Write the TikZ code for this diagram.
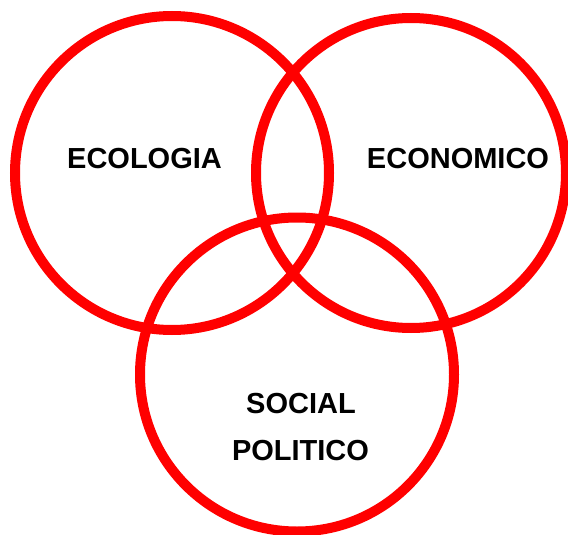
\documentclass[tikz,border=0pt]{standalone}
\usepackage{fontspec}
\setmainfont{Liberation Sans}
\begin{document}
\begin{tikzpicture}[x=1pt,y=-1pt,
  ring/.style={circle,draw=red,line width=10pt,inner sep=0pt,outer sep=0pt,minimum size=#1},
  lbl/.style={anchor=base,inner sep=0pt,font=\fontsize{29pt}{35pt}\selectfont\bfseries}]
\useasboundingbox (0,0) rectangle (568,535);
\node[ring=314pt] (eco) at (172,173) {};
\node[ring=310pt] (econ) at (411,173) {};
\node[ring=314pt] (soc) at (297,374.5) {};
\node[lbl] (t1) at (144.5,168) {ECOLOGIA};
\node[lbl] (t2) at (458,168) {ECONOMICO};
\node[lbl] (t3) at (301,413) {SOCIAL};
\node[lbl] (t4) at (300.5,460) {POLITICO};
\end{tikzpicture}
\end{document}
